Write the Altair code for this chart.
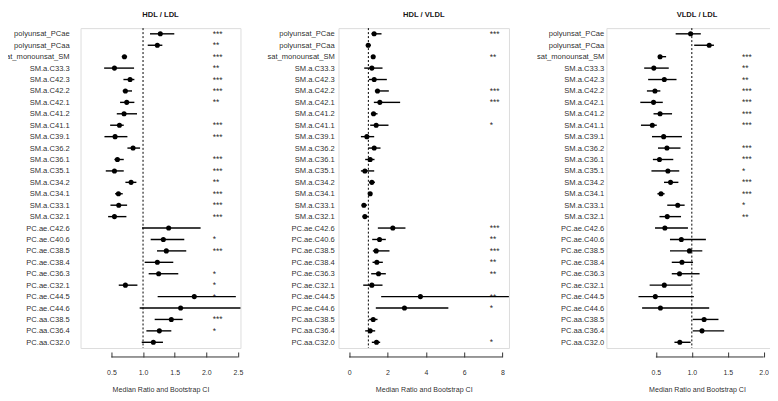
import altair as alt
import pandas as pd

FONT = "Liberation Sans"
TXT = "rgba(0,0,0,0.86)"
TILT = 0.01  # near-zero rotation: forces greyscale text antialiasing

labels = ["polyunsat_PCae", "polyunsat_PCaa", "sat_monounsat_SM", "SM.a.C33.3", "SM.a.C42.3",
          "SM.a.C42.2", "SM.a.C42.1", "SM.a.C41.2", "SM.a.C41.1", "SM.a.C39.1", "SM.a.C36.2",
          "SM.a.C36.1", "SM.a.C35.1", "SM.a.C34.2", "SM.a.C34.1", "SM.a.C33.1", "SM.a.C32.1",
          "PC.ae.C42.6", "PC.ae.C40.6", "PC.ae.C38.5", "PC.ae.C38.4", "PC.ae.C36.3", "PC.ae.C32.1",
          "PC.ae.C44.5", "PC.ae.C44.6", "PC.aa.C38.5", "PC.aa.C36.4", "PC.aa.C32.0"]

# HDL / LDL
hl_med = [1.273, 1.226, 0.706, 0.548, 0.795, 0.721, 0.742, 0.700, 0.627, 0.558, 0.842, 0.595, 0.548, 0.811,
          0.611, 0.616, 0.548, 1.405, 1.321, 1.368, 1.226, 1.247, 0.721, 1.810, 1.594, 1.447, 1.258, 1.163]
hl_lo = [1.110, 1.074, 0.664, 0.385, 0.690, 0.679, 0.637, 0.585, 0.480, 0.390, 0.753, 0.548, 0.411, 0.721,
         0.558, 0.485, 0.448, 0.984, 1.121, 1.221, 1.026, 1.089, 0.616, 1.231, 0.947, 1.184, 1.053, 0.979]
hl_hi = [1.494, 1.305, 0.748, 0.858, 0.863, 0.826, 0.863, 0.905, 0.695, 0.753, 0.953, 0.695, 0.695, 0.895,
         0.679, 0.748, 0.737, 1.910, 1.652, 1.683, 1.478, 1.557, 0.911, 2.467, 2.540, 1.626, 1.447, 1.315]
hl_sig = ["***", "**", "***", "**", "***", "***", "**", "", "***", "***", "", "***", "***", "**",
          "***", "***", "***", "", "*", "***", "", "*", "*", "*", "", "***", "*", ""]

# HDL / VLDL
hv_med = [1.300, 0.991, 1.252, 1.182, 1.304, 1.477, 1.599, 1.269, 1.408, 0.922, 1.304, 1.095, 0.818, 1.182,
          1.095, 0.766, 0.818, 2.276, 1.582, 1.408, 1.443, 1.530, 1.182, 3.717, 2.884, 1.252, 1.095, 1.425]
hv_lo = [1.165, 0.887, 1.180, 0.783, 1.026, 1.339, 1.286, 1.130, 1.095, 0.610, 0.991, 0.835, 0.610, 1.043,
         0.991, 0.661, 0.696, 1.495, 1.200, 1.234, 1.217, 1.147, 0.731, 1.668, 1.389, 1.043, 0.835, 1.180]
hv_hi = [1.686, 1.130, 1.356, 1.738, 1.964, 2.068, 2.658, 1.477, 2.050, 1.304, 1.634, 1.321, 1.304, 1.339,
         1.182, 0.922, 0.991, 2.936, 1.911, 2.102, 1.755, 1.911, 1.738, 8.335, 5.175, 1.477, 1.356, 1.616]
hv_sig = ["***", "", "**", "", "", "***", "***", "", "*", "", "", "", "", "",
          "", "", "", "***", "**", "***", "**", "**", "", "**", "*", "", "", "*"]

# VLDL / LDL
vl_med = [0.983, 1.242, 0.558, 0.471, 0.617, 0.487, 0.467, 0.558, 0.450, 0.608, 0.654, 0.550, 0.667, 0.704,
          0.571, 0.804, 0.658, 0.625, 0.854, 0.967, 0.863, 0.829, 0.617, 0.492, 0.563, 1.171, 1.142, 0.833]
vl_lo = [0.775, 1.033, 0.529, 0.337, 0.392, 0.375, 0.283, 0.467, 0.292, 0.446, 0.529, 0.458, 0.438, 0.613,
         0.521, 0.658, 0.550, 0.488, 0.696, 0.696, 0.721, 0.721, 0.413, 0.258, 0.308, 1.013, 1.013, 0.758]
vl_hi = [1.125, 1.308, 0.642, 0.679, 0.787, 0.562, 0.596, 0.725, 0.512, 0.862, 0.842, 0.742, 0.825, 0.813,
         0.621, 0.900, 0.850, 0.946, 1.196, 1.146, 1.017, 1.108, 0.988, 1.029, 1.242, 1.371, 1.450, 0.983]
vl_sig = ["", "", "***", "**", "**", "***", "***", "***", "***", "", "***", "***", "*", "***",
          "***", "*", "**", "", "", "", "", "", "", "", "", "", "", ""]

titles = ["HDL / LDL", "HDL / VLDL", "VLDL / LDL"]
ticks1 = [0.5, 1.0, 1.5, 2.0, 2.5]
ticks2 = [0, 2, 4, 6, 8]
ticks3 = [0.5, 1.0, 1.5, 2.0]
ref_value = [1.0]

H = 320.6


def panel(title, med, lo, hi, sig, domain, width, ticks, fmt, star_x, lab_pad, title_dx=0, axis_title_x=None):
    df = pd.DataFrame({"label": labels, "med": med, "lo": lo, "hi": hi, "sig": sig})
    yscale = alt.Scale(type="point", padding=0.5, domain=labels)
    yaxis = alt.Axis(title=None, domain=False, ticks=False, grid=False, labelPadding=lab_pad,
                     labelFontSize=7.6, labelFont=FONT, labelColor=TXT, labelLimit=300,
                     labelAngle=TILT, labelAlign="right", labelBaseline="middle")
    xscale = alt.Scale(domain=domain, nice=False, zero=False)
    axis_kw = dict(title="Median Ratio and Bootstrap CI", values=ticks, format=fmt, grid=False,
                   domain=False, tickSize=5, tickColor="#333", tickWidth=1, offset=4,
                   labelPadding=11.5, labelFontSize=7, labelFont=FONT, labelColor=TXT,
                   labelAngle=TILT, labelAlign="center", labelBaseline="top",
                   titleFontSize=7.1, titleFontWeight="normal", titleFont=FONT, titleColor=TXT,
                   titlePadding=10.2, titleAngle=TILT, titleBaseline="top")
    if axis_title_x is not None:
        axis_kw["titleX"] = axis_title_x
        axis_kw["titleAlign"] = "center"
    xaxis = alt.Axis(**axis_kw)
    base = alt.Chart(df)
    ci = base.mark_rule(color="black", strokeWidth=1.4).encode(
        x=alt.X("lo:Q", scale=xscale, axis=xaxis), x2="hi:Q",
        y=alt.Y("label:N", scale=yscale, axis=yaxis))
    pts = base.mark_circle(color="black", size=26, opacity=1).encode(
        x="med:Q", y=alt.Y("label:N", scale=yscale))
    stars = base.mark_text(align="left", baseline="middle", fontSize=8.5, font=FONT, color=TXT,
                           angle=TILT).encode(
        x=alt.datum(star_x), y=alt.Y("label:N", scale=yscale), text="sig:N")
    ref = alt.Chart(pd.DataFrame({"ref": ref_value})).mark_rule(
        color="black", strokeDash=[2, 2], strokeWidth=1).encode(x="ref:Q")
    axline = alt.Chart(pd.DataFrame({"a": [ticks[0]], "b": [ticks[-1]]})).mark_rule(
        color="#333", strokeWidth=1).encode(x="a:Q", x2="b:Q", y=alt.value(H + 9))
    return alt.layer(ref, ci, pts, stars, axline).properties(
        width=width, height=H,
        title=alt.TitleParams(title, fontSize=7.6, fontWeight="bold", font=FONT, color="rgba(0,0,0,0.92)",
                              offset=9.1, dx=title_dx, angle=TILT))


p1 = panel(titles[0], hl_med, hl_lo, hl_hi, hl_sig, [0.012, 2.54], 160.28, ticks1, ".1f", 2.10, 11.4)
p2 = panel(titles[1], hv_med, hv_lo, hv_hi, hv_sig, [-0.56, 8.34], 170.88, ticks2, "d", 7.33, 4.2)
p3 = panel(titles[2], vl_med, vl_lo, vl_hi, vl_sig, [-0.1889, 2.0903], 164.1, ticks3, ".1f", 1.697, 2.6,
           title_dx=8.75, axis_title_x=90.8)

chart = alt.hconcat(p1, p2, p3, spacing=97.52, bounds="flush",
                    padding={"left": -7.3, "top": 1.73, "right": -1, "bottom": 0}).configure_view(
    stroke=None).configure(background="white")

chart.save("out.html", embed_options={"renderer": "svg", "actions": False})
